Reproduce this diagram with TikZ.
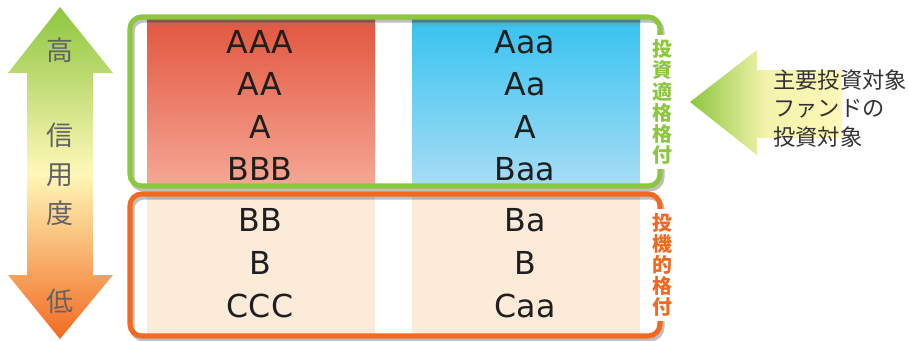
\documentclass[tikz,border=0pt]{standalone}
\usepackage{fontspec}
\setmainfont{DejaVu Sans}
\newfontfamily\jp{Noto Sans CJK JP}
\usetikzlibrary{positioning}
\definecolor{GradeGreen}{HTML}{8DC63F}
\definecolor{GradeOrange}{HTML}{F26A21}
\definecolor{GradeYellow}{HTML}{FFF8B8}
\definecolor{RedTop}{HTML}{E2573F}
\definecolor{RedBottom}{HTML}{F5A895}
\definecolor{BlueTop}{HTML}{37C3F0}
\definecolor{BlueBottom}{HTML}{A8DDF5}
\definecolor{LowPale}{HTML}{FDEBDA}
\definecolor{LabelGray}{HTML}{636363}
\definecolor{NoteDark}{HTML}{333333}

\begin{document}
\begin{tikzpicture}[x=0.03cm, y=-0.03cm,
    rating/.style={font=\fontsize{27}{30}\selectfont, text=black!88, inner sep=0pt},
    level/.style={font=\jp\fontsize{23}{25}\selectfont, text=LabelGray, inner sep=0pt},
    grade/.style={font=\jp\bfseries\fontsize{17}{18}\selectfont, align=center, fill=white, inner xsep=1pt, inner ysep=4pt},
    frame/.style={line width=4.3pt, rounded corners=10pt},
    frameshadow/.style={line width=4.3pt, rounded corners=10pt, black, opacity=0.25}]
    \useasboundingbox (0,0) rectangle (909,340);

    \shade[top color=GradeGreen, bottom color=GradeOrange, middle color=GradeYellow]
      (60,7) -- (113,73) -- (93,73) -- (93,275) -- (113,275) -- (60,339)
      -- (8,275) -- (27,275) -- (27,73) -- (8,73) -- cycle;

    \shade[top color=RedTop, bottom color=RedBottom] (147,20) rectangle (375,187);
    \shade[top color=BlueTop, bottom color=BlueBottom] (412,20) rectangle (640,187);
    \fill[LowPale] (147,195) rectangle (375,335);
    \fill[LowPale] (412,195) rectangle (640,335);
    \shade[top color=black!45, bottom color=RedTop, opacity=0.6] (147,19) rectangle (375,27);
    \shade[top color=black!45, bottom color=BlueTop, opacity=0.6] (412,19) rectangle (640,27);

    \draw[frameshadow] (132,20) rectangle (662,189);
    \draw[frameshadow] (132,197) rectangle (662,339);
    \draw[frame, GradeGreen] (130,17) rectangle (660,186);
    \draw[frame, GradeOrange] (130,194) rectangle (660,336);

    \node[rating] (aaa) at (260,42) {AAA};
    \node[rating] (aa) at (260,84) {AA};
    \node[rating] (a) at (260,127) {A};
    \node[rating] (bbb) at (260,169) {BBB};
    \node[rating] (bb) at (260,220) {BB};
    \node[rating] (b) at (260,263) {B};
    \node[rating] (ccc) at (260,306) {CCC};

    \node[rating] (Aaa) at (525,42) {Aaa};
    \node[rating] (Aa) at (525,84) {Aa};
    \node[rating] (A) at (525,127) {A};
    \node[rating] (Baa) at (525,169) {Baa};
    \node[rating] (Ba) at (525,220) {Ba};
    \node[rating] (B) at (525,263) {B};
    \node[rating] (Caa) at (525,306) {Caa};

    \node[level] (high) at (60,50) {高};
    \node[level] (shin) at (60,135) {信};
    \node[level] (you) at (60,175) {用};
    \node[level] (do) at (60,213) {度};
    \node[level] (low) at (60,301) {低};

    \node[grade, text=GradeGreen] (invest) at (662,102) {投\\資\\適\\格\\格\\付};
    \node[grade, text=GradeOrange] (spec) at (662,265) {投\\機\\的\\格\\付};

    \shade[left color=GradeGreen, right color=GradeYellow, middle color=GradeYellow!90!GradeGreen]
      (690,102) -- (757,50) -- (757,70) -- (842,70) -- (842,138) -- (757,138) -- (757,155) -- cycle;
    \node[anchor=west, align=left, inner sep=0pt, text=NoteDark,
      font=\jp\fontsize{19}{24.3}\selectfont] (target) at (773,108.5)
      {主要投資対象\\ファンドの\\投資対象};
  \end{tikzpicture}
\end{document}
